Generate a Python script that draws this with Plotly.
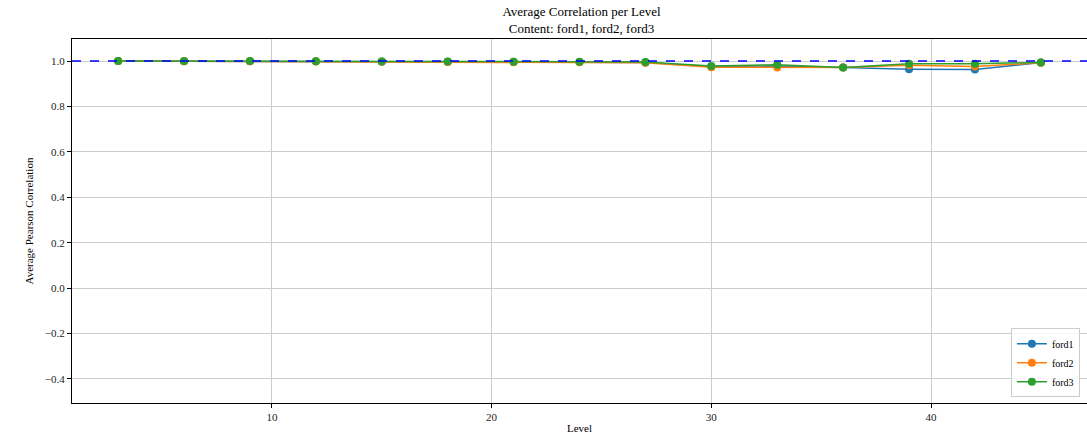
import plotly.graph_objects as go

levels = [3, 6, 9, 12, 15, 18, 21, 24, 27, 30, 33, 36, 39, 42, 45]
ford1 = [1.000, 0.999, 0.999, 0.999, 0.998, 0.997, 0.997, 0.996, 0.994, 0.976, 0.978, 0.971, 0.964, 0.963, 0.993]
ford2 = [1.000, 0.999, 0.999, 0.998, 0.997, 0.996, 0.995, 0.995, 0.992, 0.973, 0.972, 0.971, 0.981, 0.976, 0.992]
ford3 = [1.000, 1.000, 1.000, 0.999, 0.998, 0.998, 0.997, 0.997, 0.996, 0.978, 0.984, 0.971, 0.988, 0.988, 0.994]
series = [("ford1", ford1, "#1f77b4"), ("ford2", ford2, "#ff7f0e"), ("ford3", ford3, "#2ca02c")]
ref_level = 1.0
yticks = [-0.4, -0.2, 0.0, 0.2, 0.4, 0.6, 0.8, 1.0]
xticks = [10, 20, 30, 40]

FONT = "Liberation Serif, Times New Roman, serif"

fig = go.Figure()
for name, vals, col in series:
    fig.add_trace(go.Scatter(x=levels, y=vals, name=name, mode="lines+markers",
                             line=dict(color=col, width=1.5),
                             marker=dict(color=col, size=8)))

fig.add_shape(type="line", xref="paper", x0=0, x1=1, yref="y", y0=ref_level, y1=ref_level,
              line=dict(color="blue", width=1.5, dash="dash"), layer="above")

fig.update_layout(
    width=1087, height=438,
    margin=dict(l=72, r=0, t=39, b=35, autoexpand=False),
    paper_bgcolor="white", plot_bgcolor="white",
    font=dict(family=FONT, size=11, color="#222"),
    title=dict(text="Average Correlation per Level<br>Content: ford1, ford2, ford3",
               x=0.535, xanchor="center", xref="container",
               y=0.963, yanchor="top", yref="container",
               font=dict(family=FONT, size=13, color="black")),
    showlegend=True,
    legend=dict(x=0.993, y=0.016, xanchor="right", yanchor="bottom",
                bgcolor="rgba(255,255,255,0.8)", bordercolor="#cccccc", borderwidth=1,
                font=dict(family=FONT, size=10, color="black"),
                tracegroupgap=0, itemwidth=30),
)
fig.update_xaxes(range=[0.9, 47.1], tickvals=xticks, showgrid=True, gridcolor="#cccccc",
                 gridwidth=1, showline=True, linecolor="black", linewidth=1, mirror=True,
                 ticks="outside", ticklen=4, tickcolor="black", zeroline=False, automargin=False,
                 title=dict(text="Level", standoff=2, font=dict(family=FONT, size=11, color="black")))
fig.update_yaxes(range=[-0.506, 1.097], tickvals=yticks, tickformat=".1f", showgrid=True,
                 gridcolor="#cccccc", gridwidth=1, showline=True, linecolor="black", linewidth=1,
                 mirror=True, ticks="outside", ticklen=4, tickcolor="black", zeroline=False,
                 automargin=False,
                 title=dict(text="Average Pearson Correlation", standoff=8,
                            font=dict(family=FONT, size=11, color="black")))

fig.write_html("out.html", config={"displayModeBar": False},
               post_script="document.body.style.margin='0';document.body.style.overflow='hidden';")
